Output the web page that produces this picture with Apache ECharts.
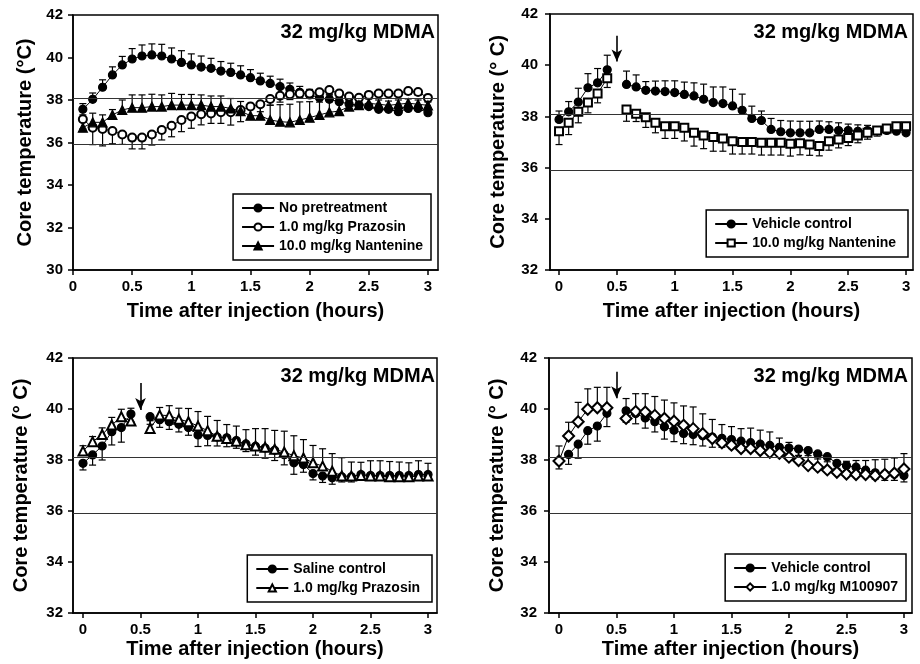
<!DOCTYPE html>
<html>
<head>
<meta charset="utf-8">
<script src="https://cdn.jsdelivr.net/npm/echarts@6/dist/echarts.min.js"></script>
<style>
  html, body { margin: 0; padding: 0; background: #fff; }
  #chart { width: 920px; height: 664px; }
</style>
</head>
<body>
<div id="chart"></div>
<script>
// sampling times (minutes after injection)
const mins1 = [5, 10, 15, 20, 25, 30, 35, 40, 45, 50, 55, 60, 65, 70, 75, 80, 85, 90,
  95, 100, 105, 110, 115, 120, 125, 130, 135, 140, 145, 150, 155, 160, 165, 170, 175, 180];
const mins2 = [0, 5, 10, 15, 20, 25, 30, 35, 40, 45, 50, 55, 60, 65, 70, 75, 80, 85, 90,
  95, 100, 105, 110, 115, 120, 125, 130, 135, 140, 145, 150, 155, 160, 165, 170, 175, 180];

const xTicks = [0, 0.5, 1, 1.5, 2, 2.5, 3];
const yTicksA = [30, 32, 34, 36, 38, 40, 42];
const yTicksB = [32, 34, 36, 38, 40, 42];
const refLines = [38.1, 35.9];
const arrowTop = [null, 41.15, 41.02, 41.46];
const arrowTip = [null, 40.14, 39.96, 40.42];

// panel 1
const noPre = [37.56, 38.03, 38.6, 39.18, 39.65, 39.93, 40.07, 40.12, 40.07, 39.93,
  39.77, 39.65, 39.55, 39.49, 39.36, 39.3, 39.18, 39.05, 38.9, 38.78,
  38.63, 38.5, 38.36, 38.24, 38.11, 38.03, 37.92, 37.81, 37.76, 37.69,
  37.56, 37.56, 37.45, 37.6, 37.6, 37.4];
const noPreErr = [0.27, 0.3, 0.35, 0.38, 0.4, 0.49, 0.52, 0.52, 0.55, 0.52,
  0.55, 0.52, 0.52, 0.47, 0.45, 0.43, 0.43, 0.38, 0.36, 0.34,
  0.35, 0.3, 0.28, 0.26, 0.25, 0.2, 0.2, 0.2, 0.15, 0.15,
  0.15, 0.15, 0.15, 0.15, 0.15, 0.2];
const praz1 = [37.09, 36.7, 36.64, 36.54, 36.38, 36.23, 36.23, 36.38, 36.59, 36.79,
  37.06, 37.22, 37.33, 37.37, 37.42, 37.42, 37.53, 37.69, 37.8, 38.05,
  38.2, 38.27, 38.31, 38.31, 38.36, 38.47, 38.31, 38.16, 38.11, 38.24,
  38.31, 38.31, 38.31, 38.42, 38.38, 38.1];
const praz1Err = [0.45, 0.8, 0.8, 0.6, 0.47, 0.53, 0.53, 0.5, 0.47, 0.52,
  0.55, 0.55, 0.5, 0.47, 0.52, 0.6, 0.55, 0.45, 0.35, 0.3,
  0.3, 0.25, 0.2, 0.2, 0.2, 0.2, 0.2, 0.15, 0.15, 0.15,
  0.15, 0.15, 0.15, 0.15, 0.15, 0.2];
const nant1 = [36.7, 36.95, 36.95, 37.3, 37.53, 37.64, 37.64, 37.69, 37.69, 37.76,
  37.76, 37.76, 37.76, 37.69, 37.69, 37.6, 37.48, 37.26, 37.26, 37.06,
  36.98, 36.95, 37.06, 37.17, 37.3, 37.42, 37.48, 37.69, 37.76, 37.84,
  37.8, 37.75, 37.8, 37.85, 37.8, 37.75];
const nant1Err = [0.6, 0.43, 0.35, 0.25, 0.47, 0.6, 0.6, 0.58, 0.55, 0.55,
  0.5, 0.5, 0.48, 0.5, 0.5, 0.47, 0.45, 0.58, 0.55, 0.7,
  0.8, 0.85, 0.85, 0.75, 0.6, 0.5, 0.45, 0.3, 0.25, 0.2,
  0.2, 0.2, 0.2, 0.2, 0.2, 0.2];

// panel 2
const veh2 = [37.88, 38.18, 38.56, 39.12, 39.31, 39.82, null, 39.25, 39.15, 39.02,
  38.99, 38.97, 38.93, 38.86, 38.8, 38.67, 38.54, 38.5, 38.41, 38.24,
  37.92, 37.84, 37.49, 37.4, 37.36, 37.36, 37.36, 37.49, 37.49, 37.45,
  37.45, 37.42, 37.45, 37.45, 37.45, 37.42, 37.36];
const veh2Err = [0.33, 0.4, 0.54, 0.55, 0.56, 0.57, null, 0.52, 0.47, 0.34,
  0.39, 0.42, 0.46, 0.48, 0.51, 0.59, 0.61, 0.65, 0.65, 0.63,
  0.48, 0.37, 0.43, 0.44, 0.46, 0.45, 0.45, 0.33, 0.3, 0.3,
  0.25, 0.25, 0.2, 0.15, 0.12, 0.1, 0.1];
const nant2 = [37.42, 37.75, 38.18, 38.54, 38.89, 39.49, null, 38.27, 38.1, 37.97,
  37.75, 37.62, 37.62, 37.56, 37.36, 37.25, 37.2, 37.14, 37.03, 37.0,
  37.0, 36.97, 36.97, 36.97, 36.93, 36.95, 36.9, 36.84, 37.03, 37.1,
  37.16, 37.25, 37.36, 37.45, 37.53, 37.62, 37.62];
const nant2Err = [0.52, 0.46, 0.43, 0.4, 0.36, 0.36, null, 0.46, 0.3, 0.4,
  0.39, 0.48, 0.48, 0.52, 0.52, 0.51, 0.56, 0.5, 0.5, 0.47,
  0.47, 0.48, 0.48, 0.48, 0.48, 0.45, 0.42, 0.38, 0.35, 0.33,
  0.3, 0.28, 0.25, 0.22, 0.2, 0.15, 0.1];

// panel 3
const saline3 = [37.87, 38.2, 38.55, 39.11, 39.27, 39.8, null, 39.7, 39.58, 39.5,
  39.4, 39.27, 38.98, 38.96, 38.9, 38.87, 38.76, 38.63, 38.54, 38.47,
  38.38, 38.21, 37.89, 37.82, 37.47, 37.37, 37.3, 37.34, 37.34, 37.43,
  37.39, 37.39, 37.39, 37.39, 37.39, 37.43, 37.43];
const saline3Err = [0.26, 0.4, 0.55, 0.52, 0.57, 0.3, null, 0.3, 0.3, 0.3,
  0.3, 0.3, 0.45, 0.4, 0.35, 0.35, 0.3, 0.3, 0.35, 0.4,
  0.4, 0.4, 0.45, 0.3, 0.25, 0.25, 0.25, 0.2, 0.2, 0.15,
  0.15, 0.15, 0.15, 0.15, 0.15, 0.15, 0.15];
const praz3 = [38.35, 38.72, 39.0, 39.37, 39.7, 39.53, null, 39.24, 39.76, 39.74,
  39.6, 39.5, 39.33, 39.15, 38.93, 38.84, 38.74, 38.6, 38.55, 38.5,
  38.42, 38.31, 38.17, 38.08, 37.89, 37.76, 37.56, 37.37, 37.37, 37.39,
  37.37, 37.37, 37.34, 37.34, 37.34, 37.37, 37.37];
const praz3Err = [0.21, 0.2, 0.26, 0.3, 0.29, 0.5, null, 0.3, 0.3, 0.39,
  0.43, 0.52, 0.57, 0.56, 0.62, 0.55, 0.59, 0.59, 0.68, 0.73,
  0.74, 0.82, 0.78, 0.72, 0.68, 0.68, 0.69, 0.72, 0.55, 0.52,
  0.6, 0.6, 0.6, 0.58, 0.55, 0.6, 0.5];

// panel 4
const veh4 = [37.95, 38.22, 38.62, 39.15, 39.33, 39.83, null, 39.93, 39.82, 39.65,
  39.5, 39.3, 39.17, 39.04, 39.0, 38.95, 38.9, 38.85, 38.8, 38.74,
  38.68, 38.62, 38.57, 38.5, 38.47, 38.43, 38.37, 38.24, 38.13, 37.87,
  37.78, 37.72, 37.6, 37.5, 37.45, 37.45, 37.39];
const veh4Err = [0.3, 0.39, 0.55, 0.53, 0.59, 0.52, null, 0.45, 0.4, 0.4,
  0.4, 0.48, 0.45, 0.4, 0.4, 0.4, 0.4, 0.35, 0.35, 0.35,
  0.35, 0.3, 0.3, 0.3, 0.25, 0.25, 0.2, 0.2, 0.2, 0.2,
  0.2, 0.2, 0.2, 0.25, 0.25, 0.25, 0.25];
const m100 = [37.96, 38.94, 39.5, 39.99, 40.05, 40.05, null, 39.63, 39.9, 39.88,
  39.75, 39.63, 39.52, 39.36, 39.23, 39.03, 38.84, 38.67, 38.58, 38.45,
  38.45, 38.37, 38.3, 38.26, 38.11, 37.98, 37.78, 37.72, 37.61, 37.52,
  37.45, 37.43, 37.43, 37.39, 37.43, 37.48, 37.65];
const m100Err = [0.59, 0.54, 0.76, 0.8, 0.8, 0.8, null, 0.78, 0.7, 0.72,
  0.74, 0.72, 0.72, 0.76, 0.85, 0.78, 0.75, 0.72, 0.73, 0.78,
  0.8, 0.8, 0.8, 0.6, 0.58, 0.5, 0.5, 0.45, 0.4, 0.4,
  0.5, 0.55, 0.55, 0.62, 0.6, 0.6, 0.6];

const FONT = '"Liberation Sans", Arial, sans-serif';
const TITLE = '32 mg/kg MDMA';

const panels = [
  { grid: { left: 73, top: 15, width: 365, height: 255 }, xMin: 0, xMax: 3.085, yMin: 30, yTicks: yTicksA,
    yName: 'Core temperature (°C)', yGap: 38, yMargin: 10, xGap: 31, title: { right: 485, top: 22 },
    legend: { right: 489, top: 194 } },
  { grid: { left: 550, top: 14, width: 363, height: 256 }, xMin: -0.078, xMax: 3.06, yMin: 32, yTicks: yTicksB,
    yName: 'Core temperature (° C)', yGap: 42, yMargin: 12, xGap: 31, title: { right: 12, top: 22 },
    legend: { right: 12, top: 210 } },
  { grid: { left: 73, top: 358, width: 364, height: 255 }, xMin: -0.087, xMax: 3.078, yMin: 32, yTicks: yTicksB,
    yName: 'Core temperature (° C)', yGap: 42, yMargin: 10, xGap: 26, title: { right: 485, top: 366 },
    legend: { right: 488, top: 555 } },
  { grid: { left: 549, top: 358, width: 363, height: 255 }, xMin: -0.087, xMax: 3.07, yMin: 32, yTicks: yTicksB,
    yName: 'Core temperature (° C)', yGap: 42, yMargin: 12, xGap: 26, title: { right: 12, top: 366 },
    legend: { right: 14, top: 554 } }
];

const groups = [
  { panel: 0, name: 'No pretreatment', mins: mins1, vals: noPre, errs: noPreErr, dir: 1, symbol: 'circle', size: 8 },
  { panel: 0, name: '1.0 mg/kg Prazosin', mins: mins1, vals: praz1, errs: praz1Err, dir: -1, symbol: 'emptyCircle', size: 8 },
  { panel: 0, name: '10.0 mg/kg Nantenine', mins: mins1, vals: nant1, errs: nant1Err, dir: 1, symbol: 'triangle', size: 9 },
  { panel: 1, name: 'Vehicle control', mins: mins2, vals: veh2, errs: veh2Err, dir: 1, symbol: 'circle', size: 8 },
  { panel: 1, name: '10.0 mg/kg Nantenine ', mins: mins2, vals: nant2, errs: nant2Err, dir: -1, symbol: 'emptyRect', size: 8 },
  { panel: 2, name: 'Saline control', mins: mins2, vals: saline3, errs: saline3Err, dir: -1, symbol: 'circle', size: 8 },
  { panel: 2, name: '1.0 mg/kg Prazosin ', mins: mins2, vals: praz3, errs: praz3Err, dir: 1, symbol: 'emptyTriangle', size: 9 },
  { panel: 3, name: 'Vehicle control ', mins: mins2, vals: veh4, errs: veh4Err, dir: -1, symbol: 'circle', size: 8 },
  { panel: 3, name: '1.0 mg/kg M100907', mins: mins2, vals: m100, errs: m100Err, dir: 1, symbol: 'emptyDiamond', size: 11 }
];

function errBar(dir) {
  return function (params, api) {
    const x = api.value(0), y = api.value(1), e = api.value(2);
    const p0 = api.coord([x, y]);
    const p1 = api.coord([x, y + dir * e]);
    const st = { stroke: '#000', lineWidth: 1.2 };
    return {
      type: 'group',
      children: [
        { type: 'line', shape: { x1: p0[0], y1: p0[1], x2: p1[0], y2: p1[1] }, style: st },
        { type: 'line', shape: { x1: p1[0] - 3.5, y1: p1[1], x2: p1[0] + 3.5, y2: p1[1] }, style: st }
      ]
    };
  };
}

const series = [];
panels.forEach(function (p, i) {
  const mlData = refLines.map(function (v) { return { yAxis: v }; });
  if (arrowTop[i] != null) {
    mlData.push([
      { coord: [0.5, arrowTop[i]], symbol: 'none', lineStyle: { width: 1.6, color: '#000' } },
      { coord: [0.5, arrowTip[i]], symbol: 'arrow', symbolSize: [8, 12] }
    ]);
  }
  // reference lines + injection arrow, drawn behind the data
  series.push({
    type: 'line', xAxisIndex: i, yAxisIndex: i, data: [], silent: true, z: 0,
    markLine: {
      silent: true, symbol: ['none', 'none'], animation: false,
      label: { show: false },
      lineStyle: { color: '#333', width: 1, type: 'solid' },
      emphasis: { disabled: true },
      data: mlData
    }
  });
});

groups.forEach(function (g) {
  series.push({
    type: 'custom', xAxisIndex: g.panel, yAxisIndex: g.panel, z: 1, silent: true,
    renderItem: errBar(g.dir),
    encode: { x: 0, y: 1 },
    data: g.mins.map(function (m, k) {
      return g.vals[k] == null ? null : [m / 60, g.vals[k], g.errs[k]];
    }).filter(Boolean)
  });
  series.push({
    type: 'line', name: g.name, xAxisIndex: g.panel, yAxisIndex: g.panel, z: 3,
    symbol: g.symbol, symbolSize: g.size, showSymbol: true, showAllSymbol: true,
    connectNulls: false,
    itemStyle: { color: '#000', borderColor: '#000', borderWidth: 1.2 },
    lineStyle: { color: '#000', width: 1 },
    emphasis: { disabled: true },
    data: g.mins.map(function (m, k) {
      return [m / 60, g.vals[k] == null ? '-' : g.vals[k]];
    })
  });
});

const labelStyle = { fontFamily: FONT, fontWeight: 'bold', color: '#000' };

const option = {
  animation: false,
  backgroundColor: '#fff',
  title: panels.map(function (p) {
    return {
      text: TITLE, right: p.title.right, top: p.title.top, padding: 0,
      textStyle: Object.assign({ fontSize: 20 }, labelStyle)
    };
  }),
  legend: panels.map(function (p, i) {
    return {
      data: groups.filter(function (g) { return g.panel === i; }).map(function (g) { return g.name; }),
      orient: 'vertical', right: p.legend.right, top: p.legend.top,
      itemGap: 5, itemWidth: 32, itemHeight: 9, padding: [7, 8, 7, 8],
      borderColor: '#000', borderWidth: 1.5, borderRadius: 0,
      backgroundColor: '#fff', selectedMode: false,
      textStyle: Object.assign({ fontSize: 14 }, labelStyle)
    };
  }),
  grid: panels.map(function (p) {
    return Object.assign({ show: true, borderColor: '#000', borderWidth: 1.5,
      backgroundColor: 'transparent', containLabel: false, outerBoundsMode: 'none' }, p.grid);
  }),
  xAxis: panels.map(function (p, i) {
    return {
      type: 'value', gridIndex: i, min: p.xMin, max: p.xMax,
      name: 'Time after injection (hours)', nameLocation: 'middle', nameGap: p.xGap,
      nameTextStyle: Object.assign({ fontSize: 20 }, labelStyle),
      axisLine: { show: true, onZero: false, lineStyle: { color: '#000', width: 1.5 } },
      axisTick: { show: true, inside: false, length: 5, lineStyle: { color: '#000', width: 1.5 }, customValues: xTicks },
      axisLabel: Object.assign({ fontSize: 15, margin: 9, customValues: xTicks,
        formatter: function (v) { return String(v); } }, labelStyle),
      splitLine: { show: false }
    };
  }),
  yAxis: panels.map(function (p, i) {
    return {
      type: 'value', gridIndex: i, min: p.yMin, max: 42,
      name: p.yName, nameLocation: 'middle', nameGap: p.yGap, nameRotate: 90,
      nameTextStyle: Object.assign({ fontSize: 20 }, labelStyle),
      axisLine: { show: true, onZero: false, lineStyle: { color: '#000', width: 1.5 } },
      axisTick: { show: true, inside: false, length: 5, lineStyle: { color: '#000', width: 1.5 }, customValues: p.yTicks },
      axisLabel: Object.assign({ fontSize: 15, margin: p.yMargin, customValues: p.yTicks }, labelStyle),
      splitLine: { show: false }
    };
  }),
  series: series
};

const chart = echarts.init(document.getElementById('chart'), null, { renderer: 'canvas' });
chart.setOption(option);
</script>
</body>
</html>
